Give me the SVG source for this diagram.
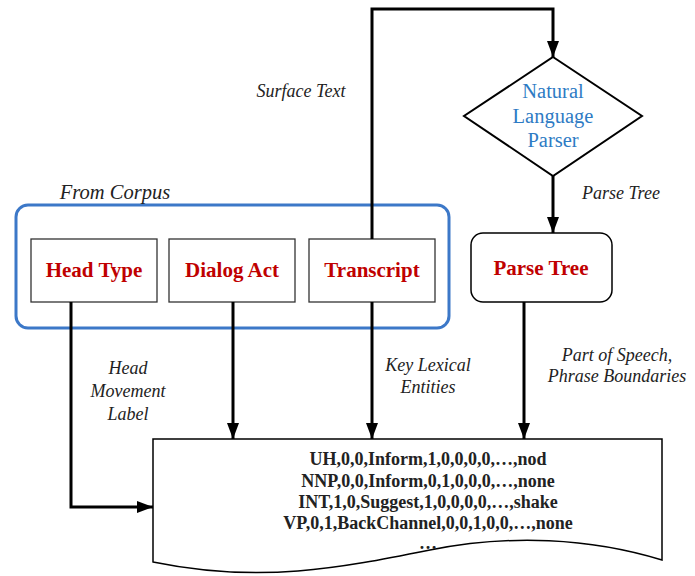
<svg xmlns="http://www.w3.org/2000/svg" width="695" height="576" viewBox="0 0 695 576">
<defs>
<marker id="ah" viewBox="0 0 16 12" refX="16" refY="6" markerWidth="16" markerHeight="12" markerUnits="userSpaceOnUse" orient="auto">
<path d="M0,0 L16,6 L0,12 Z" fill="#000"/>
</marker>
</defs>
<style>
text{font-family:'Liberation Serif','Times New Roman',Times,serif}
.box{fill:#fff;stroke:#333;stroke-width:1.3}
.red{font-weight:bold;font-size:21px;fill:#C00000;text-anchor:middle}
.lbl{font-style:italic;font-size:18px;fill:#222;text-anchor:middle}
.conn{fill:none;stroke:#000;stroke-width:3}
.data{font-weight:bold;font-size:18px;fill:#222;text-anchor:middle}
.blue{font-size:20.5px;fill:#2E7BC4;text-anchor:middle}
</style>
<rect width="695" height="576" fill="#fff"/>
<g id="corpus">
<rect x="16" y="205" width="433" height="123" rx="12" fill="none" stroke="#3C78C8" stroke-width="3"/>
<text class="lbl" x="115" y="199" style="font-size:20.5px">From Corpus</text>
</g>
<g id="headtype">
<rect class="box" x="31" y="239" width="126" height="63"/>
<text class="red" x="94" y="277">Head Type</text>
</g>
<g id="dialogact">
<rect class="box" x="169" y="239" width="126" height="63"/>
<text class="red" x="232" y="277">Dialog Act</text>
</g>
<g id="transcript">
<rect class="box" x="309" y="239" width="126" height="63"/>
<text class="red" x="372" y="277">Transcript</text>
</g>
<g id="parser">
<path d="M553,57 L642,116 L553,176 L464,116 Z" fill="#fff" stroke="#000" stroke-width="2"/>
<text class="blue" x="553" y="98">Natural</text>
<text class="blue" x="553" y="123">Language</text>
<text class="blue" x="553" y="147">Parser</text>
</g>
<g id="parsetree">
<rect x="471" y="233" width="141" height="69" rx="12" fill="#fff" stroke="#000" stroke-width="1.5"/>
<text class="red" x="541" y="275">Parse Tree</text>
</g>
<g id="output">
<path d="M153,439 H662 V560 C590,538 510,534 430,550 C340,568 260,584 153,562 Z" fill="#fff" stroke="#000" stroke-width="1.5"/>
<text class="data" x="428" y="465">UH,0,0,Inform,1,0,0,0,0,…,nod</text>
<text class="data" x="428" y="487">NNP,0,0,Inform,0,1,0,0,0,…,none</text>
<text class="data" x="428" y="508">INT,1,0,Suggest,1,0,0,0,0,…,shake</text>
<text class="data" x="428" y="529">VP,0,1,BackChannel,0,0,1,0,0,…,none</text>
<text class="data" x="428" y="549">…</text>
</g>
<g id="connectors">
<path class="conn" d="M372,239 V9 H553 V57" marker-end="url(#ah)"/>
<path class="conn" d="M553,176 V233" marker-end="url(#ah)"/>
<path class="conn" d="M71,302 V507 H153" marker-end="url(#ah)"/>
<path class="conn" d="M233,302 V439" marker-end="url(#ah)"/>
<path class="conn" d="M372,302 V439" marker-end="url(#ah)"/>
<path class="conn" d="M524,302 V439" marker-end="url(#ah)"/>
</g>
<g id="labels">
<text class="lbl" x="301" y="97">Surface Text</text>
<text class="lbl" x="621" y="199">Parse Tree</text>
<text class="lbl" x="128" y="374">Head</text>
<text class="lbl" x="128" y="397">Movement</text>
<text class="lbl" x="128" y="420">Label</text>
<text class="lbl" x="428" y="371">Key Lexical</text>
<text class="lbl" x="428" y="393">Entities</text>
<text class="lbl" x="617" y="361">Part of Speech,</text>
<text class="lbl" x="617" y="382">Phrase Boundaries</text>
</g>
</svg>
